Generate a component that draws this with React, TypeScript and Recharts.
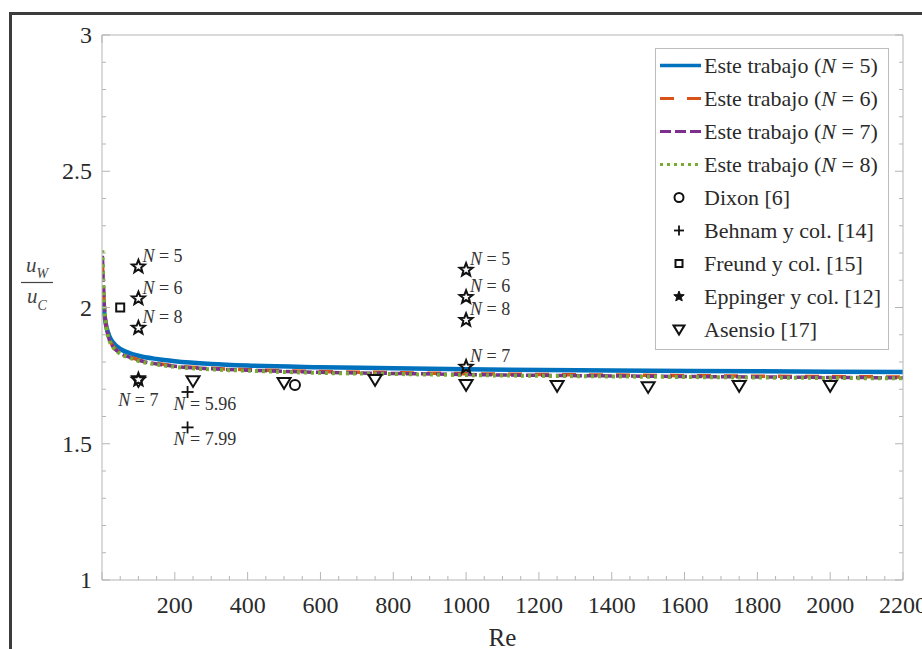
import React from 'react';
import { ComposedChart, Line, Scatter, XAxis, YAxis, Legend } from 'recharts';

// ---------- data ----------
const reGrid = [1, 3, 5, 8, 12, 20, 30, 50, 75, 100, 150, 200, 300, 400, 600, 800, 1000, 1400, 1800, 2200];
const n5Vals = [2.08, 2.04, 2.0, 1.96, 1.93, 1.895, 1.872, 1.848, 1.833, 1.823, 1.811, 1.803, 1.793, 1.787, 1.781, 1.777, 1.773, 1.769, 1.766, 1.763];
const n6Vals = [2.17, 2.1, 2.04, 1.975, 1.93, 1.885, 1.86, 1.834, 1.82, 1.808, 1.795, 1.786, 1.777, 1.772, 1.765, 1.761, 1.757, 1.752, 1.748, 1.745];
const n7Vals = [2.19, 2.11, 2.045, 1.972, 1.928, 1.882, 1.857, 1.832, 1.818, 1.806, 1.793, 1.784, 1.775, 1.77, 1.762, 1.758, 1.754, 1.749, 1.745, 1.742];
const n8Vals = [2.21, 2.12, 2.05, 1.97, 1.925, 1.88, 1.855, 1.83, 1.816, 1.804, 1.791, 1.782, 1.773, 1.768, 1.76, 1.756, 1.752, 1.747, 1.743, 1.74];

const dixonRe = [530];
const dixonVal = [1.716];
const behnamRe = [235, 235];
const behnamVal = [1.69, 1.56];
const behnamN = ['5.96', '7.99'];
const freundRe = [50];
const freundVal = [2.0];
const eppingerRe = [100, 100, 100, 100, 1000, 1000, 1000, 1000];
const eppingerVal = [2.15, 2.033, 1.925, 1.735, 2.138, 2.038, 1.954, 1.782];
const eppingerN = ['5', '6', '8', '7', '5', '6', '8', '7'];
const asensioRe = [100, 250, 500, 750, 1000, 1250, 1500, 1750, 2000];
const asensioVal = [1.73, 1.73, 1.723, 1.734, 1.716, 1.712, 1.708, 1.712, 1.712];

const xMajorTicks = [0, 200, 400, 600, 800, 1000, 1200, 1400, 1600, 1800, 2000, 2200];
const yMajorTicks = [1, 1.5, 2, 2.5, 3];

const seriesNames = [
  'Este trabajo (N = 5)',
  'Este trabajo (N = 6)',
  'Este trabajo (N = 7)',
  'Este trabajo (N = 8)',
];
const markerNames = ['Dixon [6]', 'Behnam y col. [14]', 'Freund y col. [15]', 'Eppinger y col. [12]', 'Asensio [17]'];

// ---------- derived tables ----------
const lineData = reGrid.map((re, i) => ({ re, n5: n5Vals[i], n6: n6Vals[i], n7: n7Vals[i], n8: n8Vals[i] }));
const dixonData = dixonRe.map((re, i) => ({ re, v: dixonVal[i] }));
const behnamData = behnamRe.map((re, i) => ({ re, v: behnamVal[i], n: behnamN[i] }));
const freundData = freundRe.map((re, i) => ({ re, v: freundVal[i] }));
const eppingerData = eppingerRe.map((re, i) => ({ re, v: eppingerVal[i], n: eppingerN[i] }));
const asensioData = asensioRe.map((re, i) => ({ re, v: asensioVal[i] }));

const xTicks: number[] = [];
for (let v = 0; v <= 2200; v += 50) xTicks.push(v);
const yTicks: number[] = [];
for (let k = 10; k <= 30; k++) yTicks.push(k / 10);

// ---------- styles ----------
const SERIF = '"Liberation Serif"';
const AXIS = '#b5b5b5';
const TXT = '#2a2a2a';
const C5 = '#0072BD';
const C6 = '#D95319';
const C7 = '#7E2F8E';
const C8 = '#77AC30';
const D6 = '14 13';
const D7 = '11 4';
const D8 = '3 4';

const isMajorX = (v: number) => xMajorTicks.includes(v);
const isMajorY = (v: number) => yMajorTicks.some((m) => Math.abs(m - v) < 1e-6);

const XTickBottom = (p: any) => {
  const { x, y, payload } = p;
  const v = payload.value;
  const major = isMajorX(v);
  return (
    <g>
      <line x1={x} x2={x} y1={y} y2={y - (major ? 8 : 4)} stroke={AXIS} strokeWidth={1} />
      {major && v > 0 && (
        <text x={x} y={y + 33} textAnchor="middle" style={{ fontFamily: SERIF }} fontSize={24} fill={TXT}>
          {v}
        </text>
      )}
    </g>
  );
};
const XTickTop = (p: any) => {
  const { x, y, payload } = p;
  const major = isMajorX(payload.value);
  return <line x1={x} x2={x} y1={y} y2={y + (major ? 8 : 4)} stroke={AXIS} strokeWidth={1} />;
};
const YTickLeft = (p: any) => {
  const { x, y, payload } = p;
  const v = payload.value;
  const major = isMajorY(v);
  return (
    <g>
      <line x1={x} x2={x + (major ? 8 : 4)} y1={y} y2={y} stroke={AXIS} strokeWidth={1} />
      {major && (
        <text x={x - 10} y={y + 8} textAnchor="end" style={{ fontFamily: SERIF }} fontSize={24} fill={TXT}>
          {String(v)}
        </text>
      )}
    </g>
  );
};
const YTickRight = (p: any) => {
  const { x, y, payload } = p;
  const major = isMajorY(payload.value);
  return <line x1={x} x2={x - (major ? 8 : 4)} y1={y} y2={y} stroke={AXIS} strokeWidth={1} />;
};

const starPoints = (cx: number, cy: number, R: number, r: number) =>
  Array.from({ length: 10 }, (_, i) => {
    const a = -Math.PI / 2 + (i * Math.PI) / 5;
    const rad = i % 2 === 0 ? R : r;
    return `${(cx + rad * Math.cos(a)).toFixed(2)},${(cy + rad * Math.sin(a)).toFixed(2)}`;
  }).join(' ');

const NLabel = ({ x, y, n, anchor = 'start' }: any) => (
  <text x={x} y={y} textAnchor={anchor} style={{ fontFamily: SERIF }} fontSize={18} fill="#333">
    <tspan fontStyle="italic">N</tspan>
    <tspan>{` = ${n}`}</tspan>
  </text>
);

const StarShape = (p: any) => {
  const { cx, cy, payload, small } = p;
  if (cx == null || cy == null) return <g />;
  const n = payload && payload.n;
  const below = n === '7' && payload.re < 500;
  return (
    <g>
      <polygon
        points={small ? starPoints(cx, cy, 5.5, 2.4) : starPoints(cx, cy, 6.8, 2.9)}
        fill={small ? '#111' : 'none'}
        stroke="#111"
        strokeWidth={small ? 1 : 2}
        strokeLinejoin="miter"
      />
      {n && (below ? <NLabel x={cx} y={cy + 26} n={n} anchor="middle" /> : <NLabel x={cx + 4} y={cy - 5} n={n} />)}
    </g>
  );
};
const PlusShape = (p: any) => {
  const { cx, cy, payload, small } = p;
  if (cx == null || cy == null) return <g />;
  const h = small ? 5 : 6;
  return (
    <g>
      <line x1={cx - h} x2={cx + h} y1={cy} y2={cy} stroke="#111" strokeWidth={1.8} />
      <line x1={cx} x2={cx} y1={cy - h} y2={cy + h} stroke="#111" strokeWidth={1.8} />
      {payload && payload.n && <NLabel x={cx - 14} y={cy + 18} n={payload.n} />}
    </g>
  );
};
const CircleShape = (p: any) => {
  const { cx, cy, small } = p;
  if (cx == null || cy == null) return <g />;
  return <circle cx={cx} cy={cy} r={small ? 4.5 : 5} fill="none" stroke="#111" strokeWidth={2} />;
};
const SquareShape = (p: any) => {
  const { cx, cy, small } = p;
  const h = small ? 3.5 : 4;
  if (cx == null || cy == null) return <g />;
  return <rect x={cx - h} y={cy - h} width={2 * h} height={2 * h} fill="none" stroke="#111" strokeWidth={2} />;
};
const TriShape = (p: any) => {
  const { cx, cy, small } = p;
  if (cx == null || cy == null) return <g />;
  const w = small ? 5.5 : 6.5;
  return (
    <polygon
      points={`${cx - w},${cy - w * 0.75} ${cx + w},${cy - w * 0.75} ${cx},${cy + w * 0.9}`}
      fill="none"
      stroke="#111"
      strokeWidth={2}
      strokeLinejoin="miter"
    />
  );
};

const legendLineStyles = [
  { color: C5, dash: undefined, w: 3.5 },
  { color: C6, dash: D6, w: 3 },
  { color: C7, dash: D7, w: 3 },
  { color: C8, dash: D8, w: 3 },
];
const legendMarkers = [CircleShape, PlusShape, SquareShape, StarShape, TriShape];

const LegendBox = () => {
  const rowStyle: React.CSSProperties = { display: 'flex', alignItems: 'center', height: 33 };
  const textStyle: React.CSSProperties = { fontFamily: SERIF, fontSize: 22, color: TXT, whiteSpace: 'nowrap', marginLeft: 3 };
  const renderName = (name: string) => {
    const m = name.match(/^(.*\()N( = .*)$/);
    if (!m) return name;
    return (
      <>
        {m[1]}
        <i>N</i>
        {m[2]}
      </>
    );
  };
  return (
    <div style={{ width: 232, height: 300, border: '1px solid #bdbdbd', background: '#fff', boxSizing: 'content-box' }}>
      {seriesNames.map((name, i) => (
        <div key={name} style={rowStyle}>
          <svg width={45} height={33}>
            <line
              x1={4}
              x2={45}
              y1={16.5}
              y2={16.5}
              stroke={legendLineStyles[i].color}
              strokeWidth={legendLineStyles[i].w}
              strokeDasharray={legendLineStyles[i].dash}
            />
          </svg>
          <span style={textStyle}>{renderName(name)}</span>
        </div>
      ))}
      {markerNames.map((name, i) => {
        const Shape = legendMarkers[i] as any;
        return (
          <div key={name} style={rowStyle}>
            <svg width={45} height={33}>
              <Shape cx={23} cy={16.5} small />
            </svg>
            <span style={textStyle}>{name}</span>
          </div>
        );
      })}
    </div>
  );
};

const XLabel = (p: any) => {
  const vb = p.viewBox;
  return (
    <text x={vb.x + vb.width / 2} y={vb.y + 66} textAnchor="middle" style={{ fontFamily: SERIF }} fontSize={25} fill={TXT}>
      Re
    </text>
  );
};
const YLabel = (p: any) => {
  const vb = p.viewBox;
  const cx = vb.x - 15;
  const ly = vb.y + vb.height / 2 - 25;
  return (
    <g style={{ fontFamily: SERIF }} fill="#444">
      <text x={cx} y={ly - 11} textAnchor="middle" fontSize={21} fontStyle="italic">
        <tspan>u</tspan>
        <tspan fontSize={14} dy={6}>W</tspan>
      </text>
      <line x1={cx - 16} x2={cx + 16} y1={ly} y2={ly} stroke="#444" strokeWidth={1.2} />
      <text x={cx} y={ly + 20} textAnchor="middle" fontSize={21} fontStyle="italic">
        <tspan>u</tspan>
        <tspan fontSize={14} dy={7}>C</tspan>
      </text>
    </g>
  );
};

export default function App() {
  return (
    <div style={{ position: 'absolute', left: 0, top: 0, width: 922, height: 649, overflow: 'hidden', background: '#fff', fontFamily: SERIF }}>
      <div
        style={{
          position: 'absolute',
          left: 9,
          top: 12,
          width: 1000,
          height: 1000,
          border: '3px solid #3c3c3c',
          boxSizing: 'border-box',
        }}
      />
      <div style={{ position: 'absolute', left: 0, top: 0 }}>
        <ComposedChart width={922} height={649} data={lineData} margin={{ top: 25, right: 9, bottom: 29, left: 52 }}>
          <XAxis
            dataKey="re"
            type="number"
            domain={[0, 2200]}
            allowDataOverflow
            ticks={xTicks}
            interval={0}
            tick={<XTickBottom />}
            tickLine={false}
            tickSize={0}
            tickMargin={0}
            axisLine={{ stroke: AXIS }}
            height={40}
            label={{ content: XLabel } as any}
          />
          <XAxis
            xAxisId="top"
            orientation="top"
            type="number"
            domain={[0, 2200]}
            allowDataOverflow
            ticks={xTicks}
            interval={0}
            tick={<XTickTop />}
            tickLine={false}
            tickSize={0}
            tickMargin={0}
            axisLine={{ stroke: AXIS }}
            height={10}
          />
          <YAxis
            type="number"
            domain={[1, 3]}
            allowDataOverflow
            ticks={yTicks}
            interval={0}
            tick={<YTickLeft />}
            tickLine={false}
            tickSize={0}
            tickMargin={0}
            axisLine={{ stroke: AXIS }}
            width={50}
            label={{ content: YLabel } as any}
          />
          <YAxis
            yAxisId="right"
            orientation="right"
            type="number"
            domain={[1, 3]}
            allowDataOverflow
            ticks={yTicks}
            interval={0}
            tick={<YTickRight />}
            tickLine={false}
            tickSize={0}
            tickMargin={0}
            axisLine={{ stroke: AXIS }}
            width={10}
          />
          <Line type="monotone" dataKey="n5" stroke={C5} strokeWidth={4.5} dot={false} isAnimationActive={false} />
          <Line type="monotone" dataKey="n6" stroke={C6} strokeWidth={3.5} strokeDasharray={D6} dot={false} isAnimationActive={false} />
          <Line type="monotone" dataKey="n7" stroke={C7} strokeWidth={3.5} strokeDasharray={D7} dot={false} isAnimationActive={false} />
          <Line type="monotone" dataKey="n8" stroke={C8} strokeWidth={4} strokeDasharray={D8} dot={false} isAnimationActive={false} />
          <Scatter data={dixonData} dataKey="v" shape={CircleShape} isAnimationActive={false} />
          <Scatter data={behnamData} dataKey="v" shape={PlusShape} isAnimationActive={false} />
          <Scatter data={freundData} dataKey="v" shape={SquareShape} isAnimationActive={false} />
          <Scatter data={eppingerData} dataKey="v" shape={StarShape} isAnimationActive={false} />
          <Scatter data={asensioData} dataKey="v" shape={TriShape} isAnimationActive={false} />
          <Legend
            layout="vertical"
            align="center"
            verticalAlign="middle"
            content={<LegendBox />}
            wrapperStyle={{ left: 655, top: 48, width: 234, height: 302 }}
          />
        </ComposedChart>
      </div>
    </div>
  );
}
